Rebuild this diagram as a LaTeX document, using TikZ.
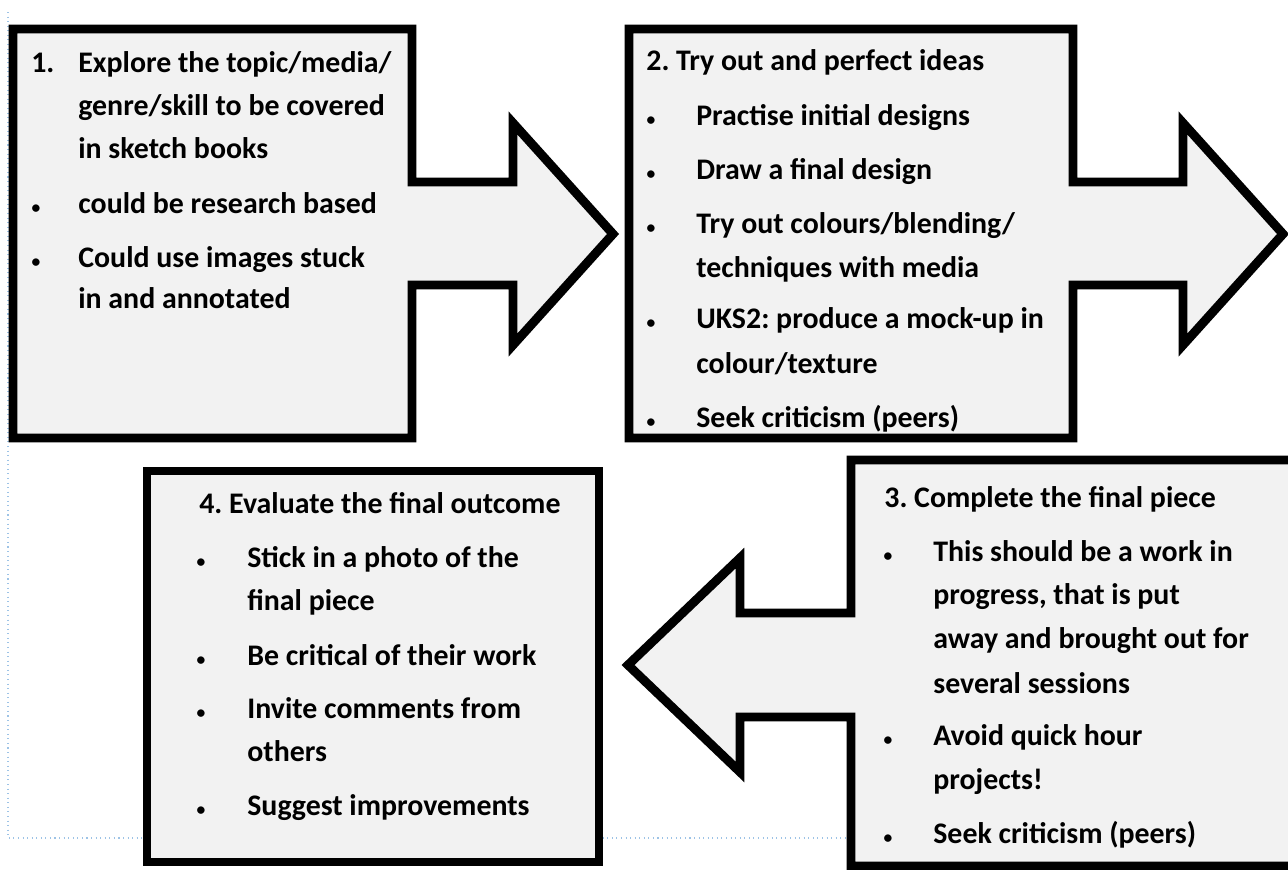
\documentclass[tikz,border=0pt]{standalone}
\usepackage{fontspec}
\setmainfont{Carlito}
\frenchspacing
\definecolor{panelfill}{HTML}{F2F2F2}
\definecolor{marginline}{HTML}{9DC3E6}
\tikzset{
  panel/.style={draw=black, fill=panelfill, line width=5.1pt, miter limit=10},
  txt/.style={anchor=base west, inner sep=0pt, font=\bfseries\fontsize{17}{20}\selectfont},
  dot/.style={anchor=base, inner sep=0pt, font=\bfseries\fontsize{10}{11}\selectfont},
}
\begin{document}
\begin{tikzpicture}[x=0.02cm, y=-0.02cm]
    \useasboundingbox (0,0) rectangle (1288,869);
    \clip (0,0) rectangle (1288,869);
    % page margin of the source document
    \draw[marginline, dotted, line width=0.6pt] (8,12) -- (8,838) -- (1288,838);

    % step 1, arrow to the right
    \draw[panel] (13,29) -- (412,29) -- (412,182) -- (513,182) -- (513,123) -- (613,234)
        -- (513,345) -- (513,285) -- (412,285) -- (412,438) -- (13,438) -- cycle;
    % step 2, arrow to the right
    \draw[panel] (629,29) -- (1073,29) -- (1073,182) -- (1183,182) -- (1183,123) -- (1283,234)
        -- (1183,345) -- (1183,285) -- (1073,285) -- (1073,438) -- (629,438) -- cycle;
    % step 3, arrow to the left
    \draw[panel] (851,460) -- (1300,460) -- (1300,866) -- (851,866) -- (851,717) -- (740,717)
        -- (740,772) -- (628,665) -- (740,558) -- (740,613) -- (851,613) -- cycle;
    % step 4
    \draw[panel] (147,471) rectangle (599,862);

    % texts of step 1
    \node[txt] (one) at (31,72) {1.};
    \foreach \i/\y/\t in {1/72/{Explore the topic/media/}, 2/115/{genre/skill to be covered},
        3/158/{in sketch books}, 4/213/{could be research based},
        5/267/{Could use images stuck}, 6/308/{in and annotated}}
        \node[txt] (one-\i) at (78,\y) {\t};
    \foreach \i/\y in {1/213, 2/267}
        \node[dot] (one-b\i) at (36,\y) {•};

    % texts of step 2
    \node[txt] (two) at (646,70) {2. Try out and perfect ideas};
    \foreach \i/\y/\t in {1/125/{Practise initial designs}, 2/179/{Draw a final design},
        3/233/{Try out colours/blending/}, 4/277/{techniques with media},
        5/328/{UKS2: produce a mock-up in}, 6/373/{colour/texture},
        7/427/{Seek criticism (peers)}}
        \node[txt] (two-\i) at (696,\y) {\t};
    \foreach \i/\y in {1/125, 2/179, 3/233, 4/328, 5/427}
        \node[dot] (two-b\i) at (651,\y) {•};

    % texts of step 3
    \node[txt] (three) at (884,507) {3. Complete the final piece};
    \foreach \i/\y/\t in {1/561/{This should be a work in}, 2/604/{progress, that is put},
        3/648/{away and brought out for}, 4/693/{several sessions},
        5/745/{Avoid quick hour}, 6/789/{projects!}, 7/843/{Seek criticism (peers)}}
        \node[txt] (three-\i) at (933,\y) {\t};
    \foreach \i/\y in {1/561, 2/745, 3/843}
        \node[dot] (three-b\i) at (888,\y) {•};

    % texts of step 4
    \node[txt] (four) at (199,513) {4. Evaluate the final outcome};
    \foreach \i/\y/\t in {1/567/{Stick in a photo of the}, 2/610/{final piece},
        3/665/{Be critical of their work}, 4/718/{Invite comments from},
        5/761/{others}, 6/815/{Suggest improvements}}
        \node[txt] (four-\i) at (247,\y) {\t};
    \foreach \i/\y in {1/567, 2/665, 3/718, 4/815}
        \node[dot] (four-b\i) at (201,\y) {•};
\end{tikzpicture}
\end{document}
